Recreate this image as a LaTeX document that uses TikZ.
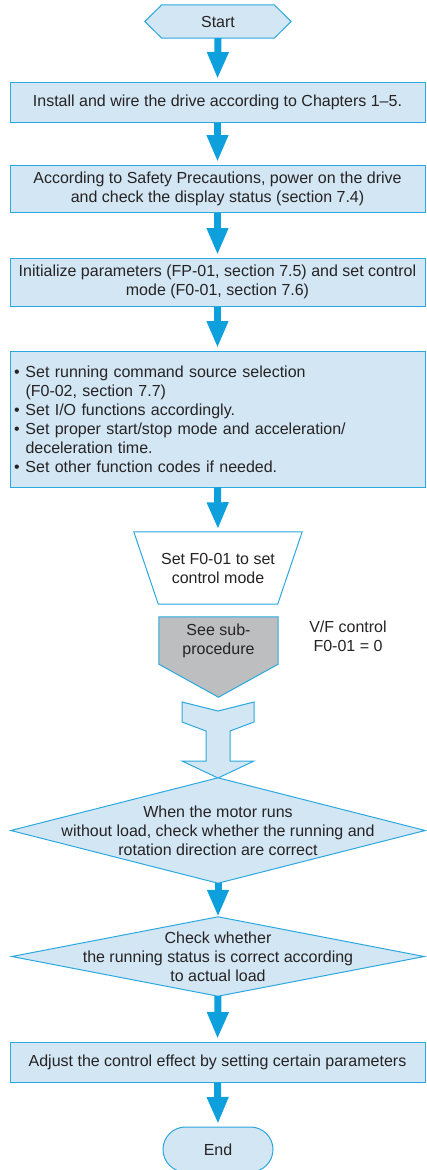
\documentclass[tikz,border=0pt]{standalone}
\usepackage{fontspec}
\setmainfont{Liberation Sans}
\usetikzlibrary{arrows.meta,backgrounds}
\definecolor{bfill}{HTML}{D3E6F4}
\definecolor{bline}{HTML}{2CA8E0}
\definecolor{arr}{HTML}{0EA0DC}
\definecolor{txt}{HTML}{262324}
\definecolor{gfill}{HTML}{BCBEC0}
\tikzset{
  box/.style={draw=bline, fill=bfill, line width=1pt, minimum width=415pt, inner sep=0pt, align=center},
  shapeonly/.style={inner sep=0pt, align=center},
  bshape/.style={draw=bline, fill=bfill, line width=1pt, line join=miter},
  flow/.style={draw=arr, line width=7pt, -{Triangle[length=27pt,width=20pt]}, shorten >=2.5pt},
}
\begin{document}
\begin{tikzpicture}[x=1pt,y=-1pt, font=\fontsize{16}{19}\selectfont, text=txt]
\useasboundingbox (0,0) rectangle (427,1170);

\node[shapeonly, minimum width=146pt, minimum height=33pt] (start) at (218,21.5) {Start};
\node[box, minimum height=40pt] (b1) at (217.5,102) {Install and wire the drive according to Chapters 1–5.};
\node[box, minimum height=47pt] (b2) at (217.5,188.5) {According to Safety Precautions, power on the drive\\and check the display status (section 7.4)};
\node[box, minimum height=48pt] (b3) at (217.5,282) {Initialize parameters (FP-01, section 7.5) and set control\\mode (F0-01, section 7.6)};
\node[box, minimum height=136pt, text width=407pt, inner xsep=4pt, align=left] (b4) at (217.5,419)
 {\makebox[11.5pt][l]{\textbullet}Set running command source selection\\
  \hspace*{11.5pt}(F0-02, section 7.7)\\
  \makebox[11.5pt][l]{\textbullet}Set I/O functions accordingly.\\
  \makebox[11.5pt][l]{\textbullet}Set proper start/stop mode and acceleration/\\
  \hspace*{11.5pt}deceleration time.\\
  \makebox[11.5pt][l]{\textbullet}Set other function codes if needed.};
\node[shapeonly, minimum width=168pt, minimum height=72pt] (tr) at (218,568) {Set F0-01 to set\\control mode};
\node[shapeonly, minimum width=119pt, minimum height=47pt] (sub) at (218.5,640.5) {See sub-\\procedure};
\node[align=center, inner sep=0pt] (vf) at (348,636) {V/F control\\F0-01 = 0};
\node[shapeonly, minimum width=72pt, minimum height=76pt] (ha) at (218,740) {};
\node[shapeonly, minimum width=414pt, minimum height=105pt] (d1) at (218,830.5) {When the motor runs\\without load, check whether the running and\\rotation direction are correct};
\node[shapeonly, minimum width=412pt, minimum height=79pt] (d2) at (218,956.5) {Check whether\\the running status is correct according\\to actual load};
\node[box, minimum height=40pt] (b5) at (217.5,1062) {Adjust the control effect by setting certain parameters};
\node[box, minimum width=110pt, minimum height=45pt, rounded corners=22.5pt] (end) at (218,1149.5) {End};

\begin{scope}[on background layer]
\draw[bshape] (start.west) -- ([xshift=17pt]start.north west) -- ([xshift=-17pt]start.north east)
  -- (start.east) -- ([xshift=-17pt]start.south east) -- ([xshift=17pt]start.south west) -- cycle;
\draw[draw=bline, fill=white, line width=1pt] (tr.north west) -- (tr.north east)
  -- ([xshift=-24.5pt]tr.south east) -- ([xshift=24.5pt]tr.south west) -- cycle;
\draw[draw=bline, fill=gfill, line width=1pt] (sub.north west) -- (sub.north east) -- (sub.south east)
  -- ([yshift=-33pt]sub.south) -- (sub.south west) -- cycle;
\draw[bshape, shift={(ha.center)}] (-36,-38) -- (0,-29) -- (36,-38) -- (36,-18) -- (12,-9) -- (12,21)
  -- (36,21) -- (0,38) -- (-36,21) -- (-12,21) -- (-12,-9) -- (-36,-18) -- cycle;
\draw[bshape] (d1.north) -- (d1.east) -- (d1.south) -- (d1.west) -- cycle;
\draw[bshape] (d2.north) -- (d2.east) -- (d2.south) -- (d2.west) -- cycle;
\end{scope}

\draw[flow] (start.south) -- (b1.north);
\draw[flow] (b1.south) -- (b2.north);
\draw[flow] (b2.south) -- (b3.north);
\draw[flow] (b3.south) -- (b4.north);
\draw[flow] (b4.south) -- (tr.north);
\draw[flow, shorten >=0pt] (d1.south) -- (d2.north);
\draw[flow] (d2.south) -- (b5.north);
\draw[flow] (b5.south) -- (end.north);
\end{tikzpicture}
\end{document}
